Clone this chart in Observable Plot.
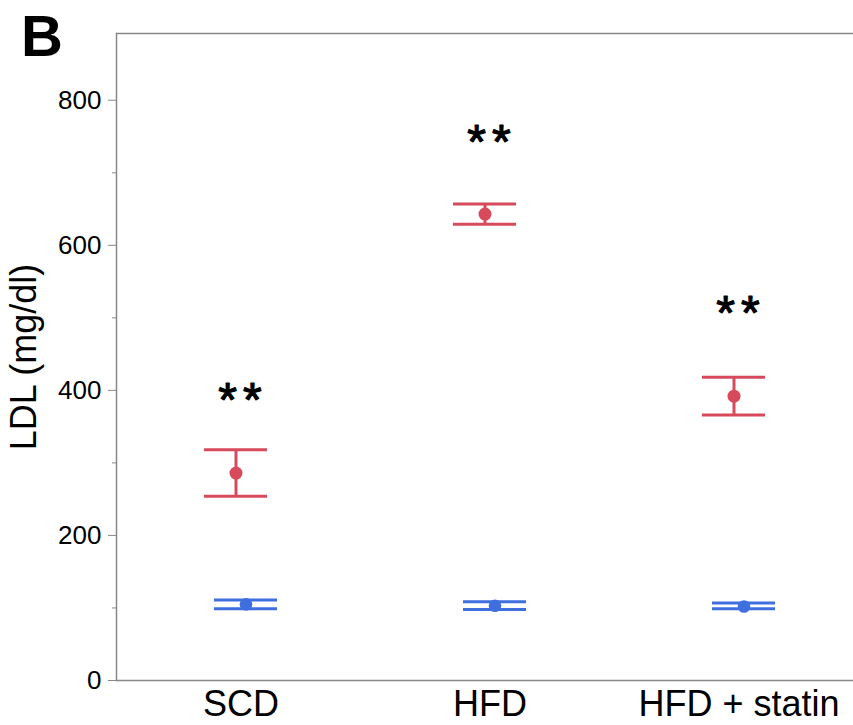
<!DOCTYPE html>
<html>
<head>
<meta charset="utf-8">
<script src="https://cdn.jsdelivr.net/npm/d3@7"></script>
<script src="https://cdn.jsdelivr.net/npm/@observablehq/plot@0.6"></script>
<style>
  html, body { margin: 0; padding: 0; background: white; overflow: hidden; }
  #wrap { position: relative; width: 853px; height: 725px; }
  #panel { position: absolute; left: 21px; top: 2px; font: bold 58px "Liberation Sans", Arial, sans-serif; color: #000; }
  .stars text { letter-spacing: 6px; }
</style>
</head>
<body>
<div id="wrap"><div id="panel">B</div></div>
<script>
const categories = ["SCD", "HFD", "HFD + statin"];
// red series (upper group)
const redMean  = [286, 643, 392];
const redLow   = [254, 629, 366];
const redHigh  = [318, 657, 418];
// blue series (lower group)
const blueMean = [105, 103, 102];
const blueLow  = [99, 98, 99];
const blueHigh = [111, 108.5, 107];
// significance markers
const starLabels = ["**", "**", "**"];
const starY = [386, 742, 506];
const yMajorTicks = [0, 200, 400, 600, 800];
const yMinorTicks = [100, 300, 500, 700];

const RED = "#d64a5b", BLUE = "#3f6fdf";
const red = categories.map((c, i) => ({cat: c, mean: redMean[i], low: redLow[i], high: redHigh[i]}));
const blue = categories.map((c, i) => ({cat: c, mean: blueMean[i], low: blueLow[i], high: blueHigh[i]}));
const stars = categories.map((c, i) => ({cat: c, y: starY[i], label: starLabels[i]}));

const capInset = 93;
const font = '"Liberation Sans", Arial, sans-serif';

const chart = Plot.plot({
  width: 853,
  height: 725,
  marginLeft: 116,
  marginRight: 0,
  marginTop: 33,
  marginBottom: 45,
  style: {fontFamily: font, background: "white", overflow: "hidden"},
  x: {type: "band", domain: categories, range: [115, 863], padding: 0, axis: null},
  y: {domain: [0, 892], axis: null},
  marks: [
    Plot.ruleY([0], {stroke: "#888", strokeWidth: 1.5}),
    Plot.ruleY([892], {stroke: "#888", strokeWidth: 1.5}),
    Plot.frame({anchor: "left", stroke: "#888", strokeWidth: 1.5}),
    Plot.axisY({ticks: yMinorTicks, tickSize: 4, stroke: "#888", text: null, label: null}),
    Plot.axisY({ticks: yMajorTicks, tickSize: 8, tickPadding: 7, stroke: "#888", fill: "#000", fontSize: 26, label: null}),
    Plot.axisX({domain: categories, tickSize: 0, tickPadding: 10, fontSize: 36, fill: "#000", label: null}),
    Plot.text(["LDL (mg/dl)"], {frameAnchor: "left", rotate: -90, dx: -92, fontSize: 36, fill: "#000", textAnchor: "middle"}),
    // red error bars
    Plot.ruleX(red, {x: "cat", y1: "low", y2: "high", stroke: RED, strokeWidth: 3, dx: -5}),
    Plot.tickY(red, {x: "cat", y: "low", stroke: RED, strokeWidth: 3, insetLeft: capInset, insetRight: capInset, dx: -5}),
    Plot.tickY(red, {x: "cat", y: "high", stroke: RED, strokeWidth: 3, insetLeft: capInset, insetRight: capInset, dx: -5}),
    Plot.dot(red, {x: "cat", y: "mean", r: 6.5, fill: RED, dx: -5}),
    // blue error bars
    Plot.ruleX(blue, {x: "cat", y1: "low", y2: "high", stroke: BLUE, strokeWidth: 3, dx: 5}),
    Plot.tickY(blue, {x: "cat", y: "low", stroke: BLUE, strokeWidth: 3, insetLeft: capInset, insetRight: capInset, dx: 5}),
    Plot.tickY(blue, {x: "cat", y: "high", stroke: BLUE, strokeWidth: 3, insetLeft: capInset, insetRight: capInset, dx: 5}),
    Plot.dot(blue, {x: "cat", y: "mean", r: 6.3, fill: BLUE, dx: 5}),
    // stars
    Plot.text(stars, {x: "cat", y: "y", text: "label", fontSize: 48, fill: "#000", stroke: "#000", strokeWidth: 1.2, className: "stars", dx: 2})
  ]
});
document.getElementById("wrap").prepend(chart);
</script>
</body>
</html>
